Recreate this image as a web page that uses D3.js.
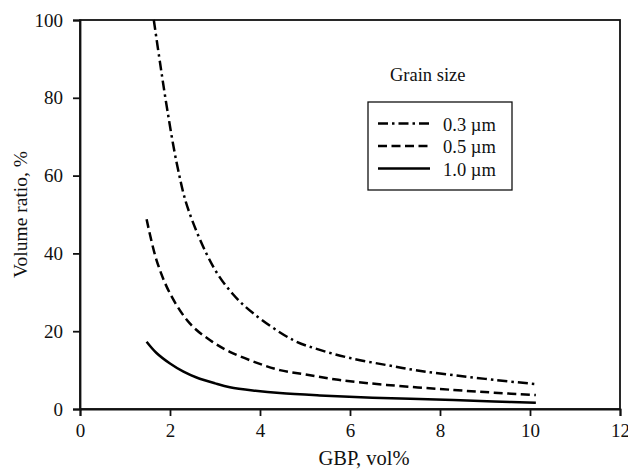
<!DOCTYPE html>
<html>
<head>
<meta charset="utf-8">
<script src="https://cdn.jsdelivr.net/npm/d3@7"></script>
<style>
  body { margin: 0; background: #fff; }
  svg text { font-family: "Liberation Serif", "DejaVu Serif", serif; fill: #111; }
</style>
</head>
<body>
<div id="chart"></div>
<script>
// values (GBP vol% -> volume ratio %)
var gbp03 = [1.64, 1.78, 1.94, 2.15, 2.40, 2.96, 3.40, 3.85, 4.74, 5.33, 6.0, 6.81, 7.5, 8.30, 9.2, 10.13];
var ratio03 = [100, 88.9, 76.9, 63.2, 51.5, 36.6, 29.5, 24.6, 17.7, 15.2, 13.1, 11.3, 9.9, 8.7, 7.5, 6.4];

var gbp05 = [1.48, 1.70, 2.0, 2.44, 2.9, 3.33, 3.9, 4.44, 5.0, 5.74, 6.81, 8.30, 9.2, 10.13];
var ratio05 = [48.8, 38.3, 29.7, 22.0, 17.6, 14.7, 12.0, 10.0, 8.9, 7.5, 6.2, 4.9, 4.2, 3.6];

var gbp10 = [1.48, 1.7, 2.0, 2.3, 2.59, 3.0, 3.33, 3.9, 4.44, 5.33, 6.5, 8.30, 9.2, 10.13];
var ratio10 = [17.3, 14.4, 11.7, 9.6, 8.1, 6.6, 5.6, 4.7, 4.1, 3.5, 2.9, 2.3, 1.9, 1.6];

var seriesNames = ["0.3 \u00b5m", "0.5 \u00b5m", "1.0 \u00b5m"];
var xTicks = [0, 2, 4, 6, 8, 10, 12];
var yTicks = [0, 20, 40, 60, 80, 100];

var series = [
    { name: seriesNames[0], x: gbp03, y: ratio03, dash: "10,4,2.5,4" },
    { name: seriesNames[1], x: gbp05, y: ratio05, dash: "9,4.5" },
    { name: seriesNames[2], x: gbp10, y: ratio10, dash: null }
];

var width = 628, height = 469;
var margin = { top: 20, right: 8, bottom: 60, left: 80 };
var w = width - margin.left - margin.right,
    h = height - margin.top - margin.bottom;

var svg = d3.select("#chart").append("svg")
    .attr("width", width).attr("height", height);

var g = svg.append("g")
    .attr("transform", "translate(" + margin.left + "," + margin.top + ")");

var xScale = d3.scaleLinear().domain([0, 12]).range([0, w]),
    yScale = d3.scaleLinear().domain([0, 100]).range([h, 0]);

// frame
g.append("rect")
    .attr("x", 0).attr("y", 0).attr("width", w).attr("height", h)
    .attr("fill", "none").attr("stroke", "#111").attr("stroke-width", 1.8);

var xAxis = g.append("g")
    .attr("transform", "translate(0," + h + ")")
    .call(d3.axisBottom(xScale).tickValues(xTicks).tickSize(7).tickPadding(8).tickFormat(d3.format("d")));

var yAxis = g.append("g")
    .call(d3.axisLeft(yScale).tickValues(yTicks).tickSize(7).tickPadding(10).tickFormat(d3.format("d")));

[xAxis, yAxis].forEach(function(a) {
    a.select(".domain").attr("stroke", "#111").attr("stroke-width", 1.8);
    a.selectAll(".tick line").attr("stroke", "#111").attr("stroke-width", 1.8);
    a.selectAll(".tick text").style("font-size", "19px")
        .style("font-family", "Liberation Serif, serif").attr("fill", "#222");
});

// curves
var line = d3.line()
    .x(function(d) { return xScale(d[0]); })
    .y(function(d) { return yScale(d[1]); })
    .curve(d3.curveCatmullRom.alpha(0.5));

series.forEach(function(s) {
    var pts = s.x.map(function(v, i) { return [v, s.y[i]]; });
    g.append("path")
        .datum(pts)
        .attr("d", line)
        .attr("fill", "none")
        .attr("stroke", "#000")
        .attr("stroke-width", 2.5)
        .attr("stroke-dasharray", s.dash);
});

// axis titles
svg.append("text")
    .attr("x", 364).attr("y", 465)
    .attr("text-anchor", "middle")
    .style("font-size", "20.5px")
    .text("GBP, vol%");

svg.append("text")
    .attr("transform", "translate(27," + (margin.top + h / 2) + ") rotate(-90)")
    .attr("text-anchor", "middle")
    .style("font-size", "19.5px")
    .text("Volume ratio, %");

// legend
svg.append("text")
    .attr("x", 390).attr("y", 81)
    .style("font-size", "18.5px")
    .text("Grain size");

var leg = svg.append("g").attr("transform", "translate(368,102)");

leg.append("rect")
    .attr("width", 144).attr("height", 88)
    .attr("fill", "#fff").attr("stroke", "#111").attr("stroke-width", 1.3);

series.forEach(function(s, i) {
    var yy = 21.5 + i * 22.5;
    leg.append("line")
        .attr("x1", 10).attr("x2", 62).attr("y1", yy).attr("y2", yy)
        .attr("stroke", "#000").attr("stroke-width", 2.5)
        .attr("stroke-dasharray", s.dash);
    leg.append("text")
        .attr("x", 75).attr("y", yy + 7)
        .style("font-size", "18.5px")
        .text(s.name);
});
</script>
</body>
</html>
